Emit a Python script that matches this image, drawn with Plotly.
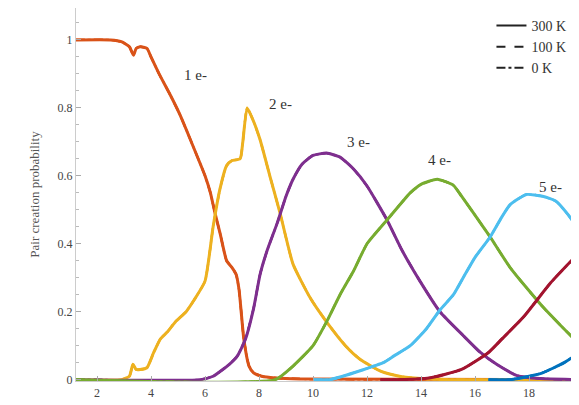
import plotly.graph_objects as go

# ---- data ----
e1_x = [1.2, 2.5, 2.9, 3.2, 3.35, 3.45, 3.6, 3.85, 4.0, 4.3, 4.7, 5.07, 5.44, 5.8, 6.0, 6.2, 6.37, 6.56, 6.8, 7.0, 7.15, 7.26, 7.44, 7.63, 7.8, 8.1, 8.6, 9.5, 20]
e1_y = [1.0, 1.0, 0.995, 0.98, 0.955, 0.975, 0.98, 0.975, 0.95, 0.9, 0.84, 0.78, 0.71, 0.64, 0.6, 0.55, 0.49, 0.43, 0.35, 0.33, 0.31, 0.265, 0.118, 0.04, 0.02, 0.01, 0.005, 0.002, 0]

e2_x = [1.2, 2.9, 3.2, 3.33, 3.45, 3.6, 3.85, 4.1, 4.35, 4.6, 4.9, 5.3, 5.6, 6.0, 6.3, 6.55, 6.8, 7.0, 7.3, 7.4, 7.56, 7.8, 8.04, 8.4, 8.78, 9.26, 9.9, 10.5, 11.2, 11.74, 12.5, 13.2, 14, 15, 20]
e2_y = [0, 0, 0.01, 0.045, 0.03, 0.03, 0.035, 0.08, 0.12, 0.14, 0.17, 0.2, 0.235, 0.29, 0.45, 0.56, 0.63, 0.645, 0.65, 0.7, 0.80, 0.76, 0.706, 0.6, 0.49, 0.34, 0.24, 0.17, 0.1, 0.06, 0.025, 0.01, 0.003, 0, 0]

e3_x = [1.2, 5.8, 6.3, 6.9, 7.2, 7.5, 7.8, 8.04, 8.3, 8.67, 9.0, 9.26, 9.6, 10.0, 10.5, 11.0, 11.5, 12.0, 12.74, 13.3, 13.96, 14.7, 15.56, 16.2, 16.8, 17.56, 18.4, 20]
e3_y = [0, 0, 0.01, 0.045, 0.07, 0.12, 0.21, 0.31, 0.38, 0.46, 0.54, 0.59, 0.635, 0.66, 0.667, 0.655, 0.62, 0.57, 0.47, 0.38, 0.29, 0.2, 0.13, 0.08, 0.045, 0.012, 0.003, 0]

e4_x = [1.2, 8.6, 9.26, 10.0, 10.5, 11.0, 11.5, 12.0, 12.74, 13.6, 14.0, 14.6, 15.2, 15.5, 16.3, 16.56, 17.3, 18.5, 19.8, 20]
e4_y = [0, 0, 0.04, 0.1, 0.17, 0.25, 0.32, 0.4, 0.47, 0.55, 0.575, 0.59, 0.572, 0.54, 0.45, 0.42, 0.33, 0.215, 0.11, 0.1]

e5_x = [10.0, 10.6, 11.1, 12.6, 13.0, 13.6, 14.2, 14.7, 15.2, 15.56, 16.0, 16.56, 17.0, 17.3, 17.9, 18.5, 19.0, 19.4, 19.85, 20]
e5_y = [0, 0, 0.01, 0.05, 0.07, 0.1, 0.15, 0.205, 0.25, 0.3, 0.36, 0.42, 0.48, 0.515, 0.545, 0.54, 0.525, 0.49, 0.44, 0.42]

e6_x = [12.5, 13.2, 14.3, 15.5, 16.5, 17.0, 17.8, 18.8, 19.8, 20]
e6_y = [0, 0, 0.005, 0.03, 0.08, 0.12, 0.185, 0.285, 0.37, 0.39]

e7_x = [16.5, 17.3, 18.0, 18.5, 19.3, 19.85, 20]
e7_y = [0, 0, 0.01, 0.02, 0.05, 0.08, 0.09]

series = [
    ("1 e-", e1_x, e1_y, "#D95319"),
    ("2 e-", e2_x, e2_y, "#EDB120"),
    ("3 e-", e3_x, e3_y, "#7E2F8E"),
    ("4 e-", e4_x, e4_y, "#77AC30"),
    ("5 e-", e5_x, e5_y, "#4DBEEE"),
    ("6 e-", e6_x, e6_y, "#A2142F"),
    ("7 e-", e7_x, e7_y, "#0072BD"),
]

temps = ["300 K", "100 K", "0 K"]
dashes = ["solid", "dash", "dashdot"]

# label positions (data coords) for the curve names
label_names = ["1 e-", "2 e-", "3 e-", "4 e-", "5 e-"]
label_x = [5.63, 8.78, 11.67, 14.7, 18.78]
label_y = [0.897, 0.81, 0.70, 0.647, 0.568]

y_ticks = [0, 0.2, 0.4, 0.6, 0.8, 1]
y_ticktext = ["0", "0.2", "0.4", "0.6", "0.8", "1"]
x_ticks = [2, 4, 6, 8, 10, 12, 14, 16, 18, 20]

SERIF = "Liberation Serif, Times New Roman, serif"

fig = go.Figure()
for name, xs, ys, col in series:
    for t, d in zip(temps, dashes):
        fig.add_trace(go.Scatter(
            x=xs, y=ys, mode="lines", showlegend=False,
            line=dict(color=col, width=3.0 if d == "solid" else 2.2, dash=d,
                      shape="spline", smoothing=0.5),
            hoverinfo="skip"))

for t, d in zip(temps, dashes):
    fig.add_trace(go.Scatter(x=[None], y=[None], mode="lines", name=t,
                             line=dict(color="#222", width=2, dash=d)))

for n, lx, ly in zip(label_names, label_x, label_y):
    fig.add_annotation(x=lx, y=ly, text=n, showarrow=False,
                       font=dict(family=SERIF, size=15, color="#333"))

fig.update_layout(
    width=579, height=405,
    margin=dict(l=68, r=8, t=0, b=32, autoexpand=False),
    paper_bgcolor="white", plot_bgcolor="white",
    font=dict(family=SERIF, color="#444", size=12),
    legend=dict(x=0.985, y=0.995, xanchor="right", yanchor="top",
                bgcolor="rgba(0,0,0,0)", font=dict(family=SERIF, size=14, color="#333"),
                itemwidth=30, tracegroupgap=0),
)
fig.update_xaxes(range=[1.222, 19.85], tickvals=x_ticks, ticks="inside", ticklen=5,
                 tickcolor="#aaa", showline=True, linecolor="#ccc", linewidth=1,
                 mirror=True, showgrid=False, zeroline=False, automargin=False,
                 ticklabelstandoff=1,
                 tickfont=dict(family=SERIF, size=12, color="#444"))
fig.update_yaxes(range=[-0.004, 1.094], tickvals=y_ticks, ticktext=y_ticktext,
                 ticks="inside", ticklen=5, tickcolor="#aaa",
                 minor=dict(dtick=0.05, ticks="inside", ticklen=3, tickcolor="#bbb"),
                 showline=True, linecolor="#ccc", linewidth=1, mirror=False,
                 showgrid=False, zeroline=False, automargin=False,
                 title=dict(text="Pair creation probability", standoff=15,
                            font=dict(family=SERIF, size=13, color="#555")),
                 tickfont=dict(family=SERIF, size=12, color="#444"))

fig.write_html("out.html")
